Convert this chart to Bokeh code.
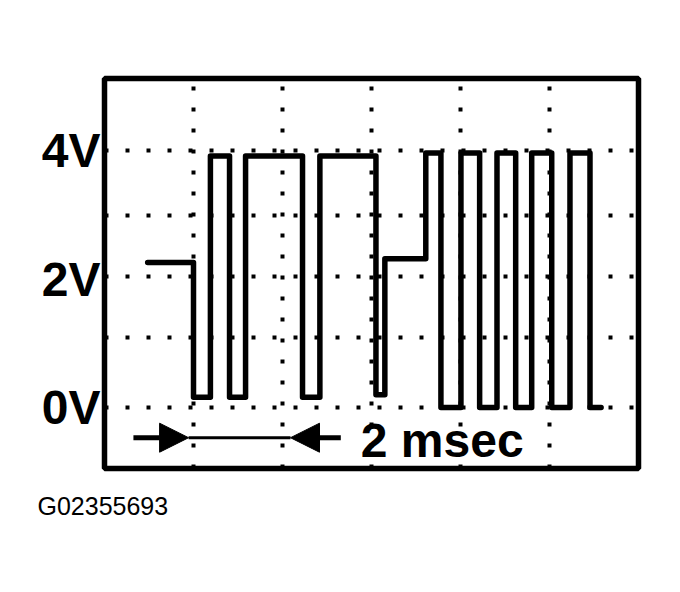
from bokeh.plotting import figure
from bokeh.models import Range1d, FixedTicker, Arrow, NormalHead, Label, Title
from bokeh.embed import file_html
from bokeh.resources import INLINE

# ---- data (time in msec, level in volts) ----
edge_times_ms = [0.97, 2.00, 2.38, 2.81, 3.17, 4.45, 4.84, 6.10, 6.30, 7.22,
                 7.56, 8.01, 8.43, 8.82, 9.24, 9.60, 10.05, 10.46, 10.91, 11.16]
levels_v = [2.26, 0.16, 3.92, 0.16, 3.92, 0.16, 3.92, 0.20, 2.32, 3.97,
            0.0, 3.97, 0.0, 3.97, 0.0, 3.97, 0.0, 3.97, 0.0]
y_tick_values = [0, 2, 4]
y_tick_labels = ["0V", "2V", "4V"]
grid_x_ms = [2, 4, 6, 8, 10]
grid_y_v = [0, 1.1, 2.05, 3.0, 4.0]
x_limits = (0, 12)
y_limits = (-0.95, 5.13)
scale_arrow_y = -0.47
scale_arrow_left = (0.65, 1.89)
scale_arrow_right = (5.31, 4.18)
scale_text = "2 msec"
caption = "G02355693"

FONT = "Liberation Sans"

p = figure(width=672, height=584, output_backend="svg", toolbar_location=None,
           x_range=Range1d(*x_limits), y_range=Range1d(*y_limits))
p.min_border_left = 104
p.min_border_right = 34
p.min_border_top = 78
p.min_border_bottom = 116
p.background_fill_color = "white"
p.border_fill_color = "white"
p.outline_line_color = "black"
p.outline_line_width = 5.5

p.xaxis.visible = False
ya = p.yaxis[0]
ya.ticker = FixedTicker(ticks=y_tick_values)
ya.major_label_overrides = {v: t for v, t in zip(y_tick_values, y_tick_labels)}
ya.axis_line_color = None
ya.major_tick_line_color = None
ya.minor_tick_line_color = None
ya.major_tick_out = 0
ya.major_tick_in = 0
ya.major_label_standoff = 4
ya.major_label_text_font = FONT
ya.major_label_text_font_style = "bold"
ya.major_label_text_font_size = "48px"
ya.major_label_text_color = "black"

p.xgrid.ticker = FixedTicker(ticks=grid_x_ms)
p.ygrid.ticker = FixedTicker(ticks=grid_y_v)
for g in (p.xgrid[0], p.ygrid[0]):
    g.grid_line_color = "black"
    g.grid_line_width = 4
    g.grid_line_dash = "4 17"
    g.grid_line_alpha = 1.0

# waveform
xs, ys = [], []
for i, lv in enumerate(levels_v):
    xs += [edge_times_ms[i], edge_times_ms[i + 1]]
    ys += [lv, lv]
p.line(xs, ys, line_color="black", line_width=5.5, line_join="round", line_cap="round")

# scale arrows
p.line([scale_arrow_left[1], scale_arrow_right[1]], [scale_arrow_y, scale_arrow_y],
       line_color="black", line_width=3)
for (xs0, xe) in (scale_arrow_left, scale_arrow_right):
    p.add_layout(Arrow(end=NormalHead(size=29, fill_color="black", line_color="black", line_width=1),
                       x_start=xs0, y_start=scale_arrow_y, x_end=xe, y_end=scale_arrow_y,
                       line_color="black", line_width=5))

p.add_layout(Label(x=5.76, y=-0.51, text=scale_text, text_font=FONT, text_font_style="bold",
                   text_font_size="48px", text_baseline="middle", text_align="left",
                   text_color="black"))

cap = Title(text=caption, align="left", offset=-67, standoff=42,
            text_font=FONT, text_font_size="25px", text_font_style="normal",
            text_color="black")
p.add_layout(cap, "below")

open("out.html", "w").write(file_html(p, INLINE))
